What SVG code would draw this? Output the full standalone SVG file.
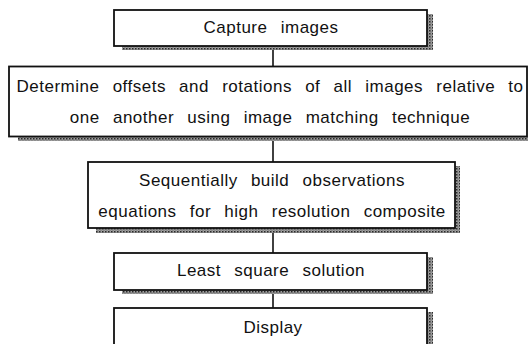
<svg xmlns="http://www.w3.org/2000/svg" width="528" height="344" viewBox="0 0 528 344">
<defs>
<pattern id="ht" width="3" height="3" patternUnits="userSpaceOnUse">
<rect width="3" height="3" fill="#a0a0a0"/>
<rect width="1.5" height="1.5" fill="#2a2a2a"/>
<rect x="1.5" y="1.5" width="1" height="1" fill="#555"/>
</pattern>
</defs>
<style>
.box{fill:#fff;stroke:#111;stroke-width:1.8}
.sh{fill:url(#ht)}
.t{font-family:"Liberation Sans",Arial,sans-serif;font-size:17px;fill:#111;text-anchor:middle;letter-spacing:0.5px;word-spacing:8px}
.c{stroke:#111;stroke-width:1.6;fill:none}
</style>
<g id="connectors">
<line class="c" x1="273" y1="50" x2="273" y2="66.5"/>
<line class="c" x1="273" y1="141" x2="273" y2="162"/>
<line class="c" x1="273" y1="233" x2="273" y2="253"/>
<line class="c" x1="273" y1="294" x2="273" y2="308"/>
</g>
<g id="n1">
<rect class="sh" x="122" y="46" width="311" height="4"/>
<rect class="sh" x="427" y="14" width="6" height="36"/>
<rect class="box" x="114" y="10" width="313" height="36"/>
<text class="t" x="271" y="33">Capture images</text>
</g>
<g id="n2">
<rect class="sh" x="18" y="136.5" width="510" height="4.5"/>
<rect class="box" x="9" y="66.5" width="518" height="70"/>
<text class="t" x="270" y="91.5">Determine offsets and rotations of all images relative to</text>
<text class="t" x="270" y="122.5">one another using image matching technique</text>
</g>
<g id="n3">
<rect class="sh" x="96" y="228" width="364" height="5"/>
<rect class="sh" x="455" y="166" width="5" height="67"/>
<rect class="box" x="88" y="162" width="367" height="66"/>
<text class="t" x="272" y="185.5">Sequentially build observations</text>
<text class="t" x="272" y="217">equations for high resolution composite</text>
</g>
<g id="n4">
<rect class="sh" x="122" y="290" width="311" height="4"/>
<rect class="sh" x="427" y="257" width="6" height="37"/>
<rect class="box" x="114" y="253" width="313" height="37"/>
<text class="t" x="271" y="276">Least square solution</text>
</g>
<g id="n5">
<rect class="sh" x="427" y="312" width="6" height="40"/>
<rect class="box" x="114" y="308" width="313" height="50"/>
<text class="t" x="273" y="333">Display</text>
</g>
</svg>
